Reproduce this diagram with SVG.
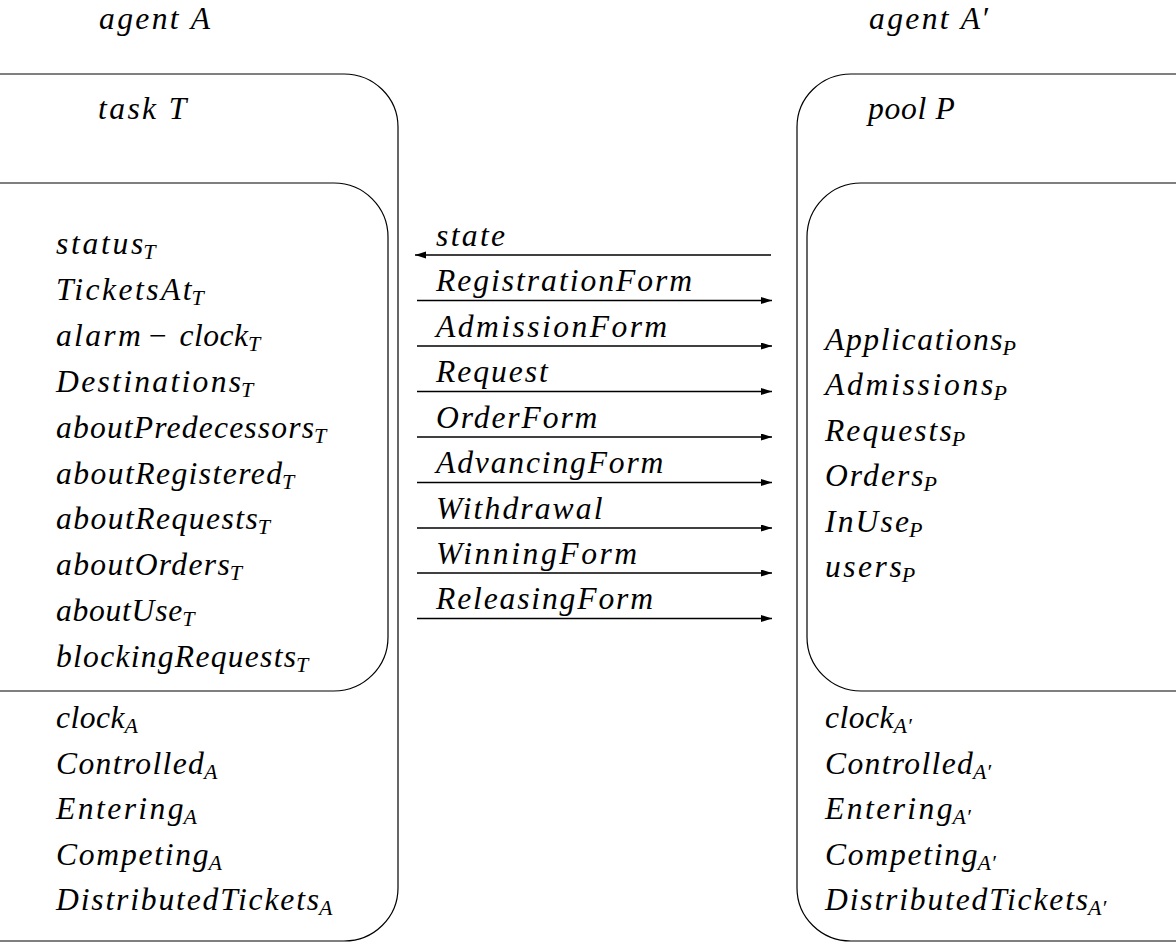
<svg xmlns="http://www.w3.org/2000/svg" width="1176" height="947" viewBox="0 0 1176 947">
  <style>
    .m { font-family: "Liberation Serif", "Times New Roman", serif; font-style: italic; font-size: 31.6px; fill: #000; }
    .s { font-size: 22px; }
    .op { font-style: normal; }
    .box { fill: none; stroke: #000; stroke-width: 1.2; }
    .arr { fill: none; stroke: #000; stroke-width: 1.3; }
  </style>
  <defs>
    <marker id="ah" markerWidth="12" markerHeight="8" refX="11" refY="3.5" orient="auto" markerUnits="userSpaceOnUse">
      <path d="M0,0 L11,3.5 L0,7 Z" fill="#000"/>
    </marker>
  </defs>
  <rect width="1176" height="947" fill="#fff"/>

  <!-- agent A: outer frame with its own attributes -->
  <g id="agentA">
    <path class="box" d="M0,74 H344 A54,53 0 0 1 398,127 V888 A54,53 0 0 1 344,941 H0"/>
    <text class="m" x="99" y="29" textLength="111" lengthAdjust="spacing">agent A</text>
    <text class="m" x="56" y="728"><tspan textLength="68.6" lengthAdjust="spacing">clock</tspan><tspan class="s" x="124.6" dy="5">A</tspan></text>
    <text class="m" x="56" y="773.6"><tspan textLength="147.9" lengthAdjust="spacing">Controlled</tspan><tspan class="s" x="203.9" dy="5">A</tspan></text>
    <text class="m" x="56" y="819.2"><tspan textLength="127.6" lengthAdjust="spacing">Entering</tspan><tspan class="s" x="183.6" dy="5">A</tspan></text>
    <text class="m" x="56" y="864.8"><tspan textLength="152.6" lengthAdjust="spacing">Competing</tspan><tspan class="s" x="208.6" dy="5">A</tspan></text>
    <text class="m" x="56" y="910.4"><tspan textLength="263.1" lengthAdjust="spacing">DistributedTickets</tspan><tspan class="s" x="319.1" dy="5">A</tspan></text>
  </g>

  <!-- task T: inner frame -->
  <g id="taskT">
    <path class="box" d="M0,183 H334 A54,54 0 0 1 388,237 V637 A54,54 0 0 1 334,691 H0"/>
    <text class="m" x="98" y="119" textLength="88.4" lengthAdjust="spacing">task T</text>
    <text class="m" x="56" y="254"><tspan textLength="87.2" lengthAdjust="spacing">status</tspan><tspan class="s" x="143.2" dy="5">T</tspan></text>
    <text class="m" x="56" y="299.9"><tspan textLength="135.6" lengthAdjust="spacing">TicketsAt</tspan><tspan class="s" x="191.6" dy="5">T</tspan></text>
    <text class="m" x="56" y="345.8"><tspan textLength="84.8" lengthAdjust="spacing">alarm</tspan><tspan class="op" x="149">−</tspan><tspan x="179.4" textLength="68.6" lengthAdjust="spacing">clock</tspan><tspan class="s" x="248" dy="5">T</tspan></text>
    <text class="m" x="56" y="391.7"><tspan textLength="185.1" lengthAdjust="spacing">Destinations</tspan><tspan class="s" x="241.1" dy="5">T</tspan></text>
    <text class="m" x="56" y="437.6"><tspan textLength="258" lengthAdjust="spacing">aboutPredecessors</tspan><tspan class="s" x="314" dy="5">T</tspan></text>
    <text class="m" x="56" y="483.5"><tspan textLength="226.1" lengthAdjust="spacing">aboutRegistered</tspan><tspan class="s" x="282.1" dy="5">T</tspan></text>
    <text class="m" x="56" y="529.4"><tspan textLength="201.7" lengthAdjust="spacing">aboutRequests</tspan><tspan class="s" x="257.7" dy="5">T</tspan></text>
    <text class="m" x="56" y="575.3"><tspan textLength="173.7" lengthAdjust="spacing">aboutOrders</tspan><tspan class="s" x="229.7" dy="5">T</tspan></text>
    <text class="m" x="56" y="621.2"><tspan textLength="126.2" lengthAdjust="spacing">aboutUse</tspan><tspan class="s" x="182.2" dy="5">T</tspan></text>
    <text class="m" x="56" y="667.1"><tspan textLength="240" lengthAdjust="spacing">blockingRequests</tspan><tspan class="s" x="296" dy="5">T</tspan></text>
  </g>

  <!-- agent A': outer frame with its own attributes -->
  <g id="agentA2">
    <path class="box" d="M1176,74 H851 A54,53 0 0 0 797,127 V888 A54,53 0 0 0 851,941 H1176"/>
    <text class="m" x="869" y="29"><tspan textLength="111" lengthAdjust="spacing">agent A</tspan><tspan x="981">′</tspan></text>
    <text class="m" x="825" y="728"><tspan textLength="68.6" lengthAdjust="spacing">clock</tspan><tspan class="s" x="893.6" dy="5">A′</tspan></text>
    <text class="m" x="825" y="773.6"><tspan textLength="147.9" lengthAdjust="spacing">Controlled</tspan><tspan class="s" x="972.9" dy="5">A′</tspan></text>
    <text class="m" x="825" y="819.2"><tspan textLength="127.6" lengthAdjust="spacing">Entering</tspan><tspan class="s" x="952.6" dy="5">A′</tspan></text>
    <text class="m" x="825" y="864.8"><tspan textLength="152.6" lengthAdjust="spacing">Competing</tspan><tspan class="s" x="977.6" dy="5">A′</tspan></text>
    <text class="m" x="825" y="910.4"><tspan textLength="263.1" lengthAdjust="spacing">DistributedTickets</tspan><tspan class="s" x="1088.1" dy="5">A′</tspan></text>
  </g>

  <!-- pool P: inner frame -->
  <g id="poolP">
    <path class="box" d="M1176,183 H861 A54,54 0 0 0 807,237 V637 A54,54 0 0 0 861,691 H1176"/>
    <text class="m" x="868" y="119" textLength="86.8" lengthAdjust="spacing">pool P</text>
    <text class="m" x="825" y="349.5"><tspan textLength="177.6" lengthAdjust="spacing">Applications</tspan><tspan class="s" x="1002.6" dy="5">P</tspan></text>
    <text class="m" x="825" y="395"><tspan textLength="168.4" lengthAdjust="spacing">Admissions</tspan><tspan class="s" x="993.4" dy="5">P</tspan></text>
    <text class="m" x="825" y="440.5"><tspan textLength="126.7" lengthAdjust="spacing">Requests</tspan><tspan class="s" x="951.7" dy="5">P</tspan></text>
    <text class="m" x="825" y="486"><tspan textLength="98.6" lengthAdjust="spacing">Orders</tspan><tspan class="s" x="923.6" dy="5">P</tspan></text>
    <text class="m" x="825" y="531.5"><tspan textLength="84" lengthAdjust="spacing">InUse</tspan><tspan class="s" x="909" dy="5">P</tspan></text>
    <text class="m" x="825" y="577"><tspan textLength="76.7" lengthAdjust="spacing">users</tspan><tspan class="s" x="901.7" dy="5">P</tspan></text>
  </g>

  <!-- messages exchanged between task T and pool P -->
  <g id="connectors">
    <g id="c-state">
      <line class="arr" x1="771" y1="255" x2="415" y2="255" marker-end="url(#ah)"/>
      <text class="m" x="436" y="245.5" textLength="69.1" lengthAdjust="spacing">state</text>
    </g>
    <g id="c-registration">
      <line class="arr" x1="417" y1="300.5" x2="772" y2="300.5" marker-end="url(#ah)"/>
      <text class="m" x="436" y="291" textLength="256.1" lengthAdjust="spacing">RegistrationForm</text>
    </g>
    <g id="c-admission">
      <line class="arr" x1="417" y1="346" x2="772" y2="346" marker-end="url(#ah)"/>
      <text class="m" x="436" y="336.5" textLength="231.2" lengthAdjust="spacing">AdmissionForm</text>
    </g>
    <g id="c-request">
      <line class="arr" x1="417" y1="391.5" x2="772" y2="391.5" marker-end="url(#ah)"/>
      <text class="m" x="436" y="382" textLength="111.8" lengthAdjust="spacing">Request</text>
    </g>
    <g id="c-order">
      <line class="arr" x1="417" y1="437" x2="772" y2="437" marker-end="url(#ah)"/>
      <text class="m" x="436" y="427.5" textLength="161.4" lengthAdjust="spacing">OrderForm</text>
    </g>
    <g id="c-advancing">
      <line class="arr" x1="417" y1="482.5" x2="772" y2="482.5" marker-end="url(#ah)"/>
      <text class="m" x="436" y="473" textLength="227.4" lengthAdjust="spacing">AdvancingForm</text>
    </g>
    <g id="c-withdrawal">
      <line class="arr" x1="417" y1="528" x2="772" y2="528" marker-end="url(#ah)"/>
      <text class="m" x="436" y="518.5" textLength="166.5" lengthAdjust="spacing">Withdrawal</text>
    </g>
    <g id="c-winning">
      <line class="arr" x1="417" y1="573" x2="772" y2="573" marker-end="url(#ah)"/>
      <text class="m" x="436" y="563.5" textLength="201.2" lengthAdjust="spacing">WinningForm</text>
    </g>
    <g id="c-releasing">
      <line class="arr" x1="417" y1="618.5" x2="772" y2="618.5" marker-end="url(#ah)"/>
      <text class="m" x="436" y="609" textLength="217" lengthAdjust="spacing">ReleasingForm</text>
    </g>
  </g>
</svg>
